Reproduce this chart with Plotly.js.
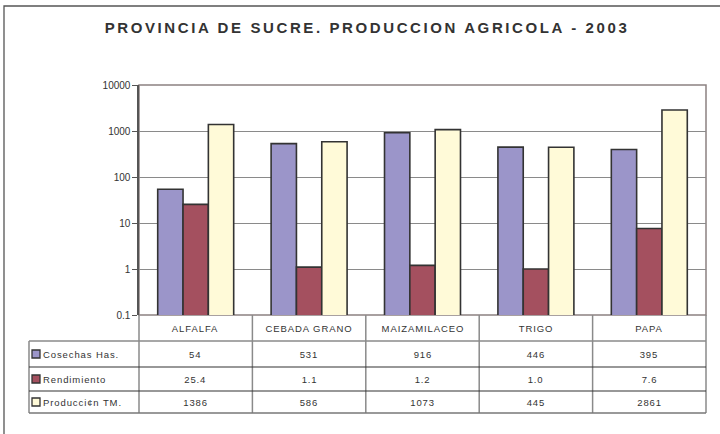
<!DOCTYPE html>
<html>
<head>
<meta charset="utf-8">
<script src="https://cdn.plot.ly/plotly-3.0.1.min.js"></script>
<style>
  html, body { margin: 0; padding: 0; background: #fff; }
  #chart { width: 720px; height: 434px; }
  #chart .gtitle { letter-spacing: 2.6px; }
  #chart .annotation-text { letter-spacing: 0.9px; }
</style>
</head>
<body>
<div id="chart"></div>
<script>
// ---- data ----
const categories = ["ALFALFA", "CEBADA GRANO", "MAIZAMILACEO", "TRIGO", "PAPA"];
const seriesNames = ["Cosechas Has.", "Rendimiento", "Producci\u00a2n TM."];
const cosechas = [54, 531, 916, 446, 395];
const rendimiento = [25.4, 1.1, 1.2, 1.0, 7.6];
const produccion = [1386, 586, 1073, 445, 2861];
const yTickVals = [0.1, 1, 10, 100, 1000, 10000];
const yTickText = ["0.1", "1", "10", "100", "1000", "10000"];

// ---- styling ----
const W = 720, H = 434;
const M = { l: 139, r: 14, t: 85, b: 119 };
const colors = ["#9b95c9", "#a4505f", "#fffad8"];
const FONT = "Liberation Sans, Arial, sans-serif";
const TXT = "#333333";

const plotW = W - M.l - M.r, plotH = H - M.t - M.b;
const pxX = px => (px - M.l) / plotW;            // pixel -> paper x
const pxY = py => (H - M.b - py) / plotH;        // pixel -> paper y
const catX = c => (c + 0.5) / categories.length; // category index -> paper x (range -0.5..n-0.5)

const series = [cosechas, rendimiento, produccion];
const traces = series.map((vals, i) => ({
  type: "bar",
  name: seriesNames[i],
  x: categories,
  y: vals,
  marker: { color: colors[i], line: { color: "#333333", width: 1.6 } },
  hoverinfo: "skip"
}));

// table geometry (pixels)
const tableTop = H - M.b;
const rowEdges = [tableTop, 341, 367, 391, 413];
const labelLeft = 29;

const shapes = [];
const annotations = [];

// outer frame
shapes.push({ type: "rect", xref: "paper", yref: "paper",
  x0: pxX(4), x1: pxX(730), y0: pxY(6), y1: pxY(445),
  line: { color: "#555555", width: 1.3 }, fillcolor: "rgba(0,0,0,0)", layer: "below" });

// plot border (top/right)
shapes.push({ type: "rect", xref: "paper", yref: "paper", x0: 0, x1: 1, y0: 0, y1: 1,
  line: { color: "#8c8181", width: 1.5 }, fillcolor: "rgba(0,0,0,0)", layer: "below" });

// table vertical lines at category boundaries
for (let c = -0.5; c <= categories.length - 0.5 + 1e-9; c += 1) {
  shapes.push({ type: "line", xref: "paper", yref: "paper",
    x0: catX(c), x1: catX(c), y0: pxY(rowEdges[0]), y1: pxY(rowEdges[4]),
    line: { color: "#8a8a8a", width: 1.5 } });
}
// label column left edge
shapes.push({ type: "line", xref: "paper", yref: "paper",
  x0: pxX(labelLeft), x1: pxX(labelLeft), y0: pxY(rowEdges[1]), y1: pxY(rowEdges[4]),
  line: { color: "#777777", width: 1.3 } });
// horizontal lines
const hColors = [null, "#8a8a8a", "#333333", "#333333", "#777777"];
for (let r = 1; r < rowEdges.length; r++) {
  shapes.push({ type: "line", xref: "paper", yref: "paper",
    x0: pxX(labelLeft), x1: catX(categories.length - 0.5), y0: pxY(rowEdges[r]), y1: pxY(rowEdges[r]),
    line: { color: hColors[r], width: r === 1 || r === 4 ? 1.4 : 1.1 } });
}

// header labels
categories.forEach((cat, i) => {
  annotations.push({ xref: "paper", yref: "paper", x: catX(i),
    y: pxY((rowEdges[0] + rowEdges[1]) / 2), text: cat, showarrow: false,
    xanchor: "center", yanchor: "middle",
    font: { family: FONT, size: 9.5, color: TXT } });
});

// rows
series.forEach((vals, r) => {
  const yMid = (rowEdges[r + 1] + rowEdges[r + 2]) / 2;
  shapes.push({ type: "rect", xref: "paper", yref: "paper",
    x0: pxX(32), x1: pxX(40), y0: pxY(yMid - 4), y1: pxY(yMid + 4),
    fillcolor: colors[r], line: { color: "#333333", width: 1.3 } });
  annotations.push({ xref: "paper", yref: "paper", x: pxX(41), y: pxY(yMid),
    text: seriesNames[r], showarrow: false, xanchor: "left", yanchor: "middle", align: "left",
    font: { family: FONT, size: 9.5, color: TXT } });
  vals.forEach((v, i) => {
    annotations.push({ xref: "paper", yref: "paper", x: catX(i), y: pxY(yMid),
      text: r === 1 ? v.toFixed(1) : String(v), showarrow: false,
      xanchor: "center", yanchor: "middle",
      font: { family: FONT, size: 9.5, color: TXT } });
  });
});

const layout = {
  width: W, height: H,
  margin: M,
  paper_bgcolor: "#ffffff", plot_bgcolor: "#ffffff",
  showlegend: false,
  barmode: "group", bargap: 0.33, bargroupgap: 0,
  title: {
    text: "PROVINCIA DE SUCRE. PRODUCCION AGRICOLA - 2003",
    font: { family: FONT, size: 15, color: TXT, weight: "bold" },
    x: 367 / W, xref: "container", xanchor: "center",
    y: 1 - 28 / H, yref: "container", yanchor: "middle"
  },
  xaxis: {
    type: "category", range: [-0.5, categories.length - 0.5],
    showticklabels: false, showgrid: false, showline: false, zeroline: false, ticks: ""
  },
  yaxis: {
    type: "log", range: [-1, 4],
    tickvals: yTickVals, ticktext: yTickText,
    ticks: "outside", ticklen: 5, tickwidth: 1, tickcolor: "#555555",
    showgrid: true, gridcolor: "#8a8a8a", gridwidth: 1,
    showline: true, linecolor: "#555555", linewidth: 1.6,
    zeroline: false,
    tickfont: { family: FONT, size: 10, color: TXT }
  },
  shapes: shapes,
  annotations: annotations
};

Plotly.newPlot("chart", traces, layout, { staticPlot: true, displayModeBar: false });
</script>
</body>
</html>
